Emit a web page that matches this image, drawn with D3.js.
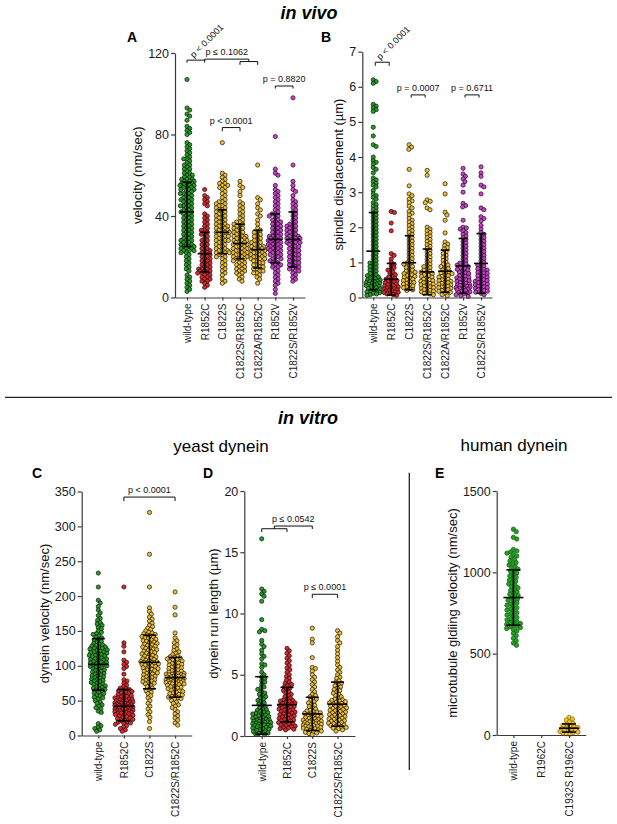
<!DOCTYPE html>
<html>
<head>
<meta charset="utf-8">
<script src="https://cdn.jsdelivr.net/npm/d3@7"></script>
<style>
  body { margin: 0; background: #fff; }
  svg { display: block; }
</style>
</head>
<body>
<svg id="fig" width="617" height="824"></svg>
<script>
const FONT = "'Liberation Sans', Arial, Helvetica, sans-serif";

// ---------- data ----------
const vivoGroups = ["wild-type", "R1852C", "C1822S", "C1822S/R1852C", "C1822A/R1852C", "R1852V", "C1822S/R1852V"];
const yeastGroups = ["wild-type", "R1852C", "C1822S", "C1822S/R1852C"];
const humanGroups = ["wild-type", "R1962C", "C1932S R1962C"];

// A: spindle velocity in vivo (nm/sec)
const velocityValues = [
  [107, 93, 92, 90, 89, 87, 84, 83, 82, 81, 80, 76, 75, 74, 73, 72, 71, 70, 69, 68, 68, 67, 66, 65, 65, 64, 63, 63, 62, 61, 61, 60, 60, 59, 59, 58, 58, 58, 57, 57, 57, 56, 56, 56, 56, 55, 55, 55, 54, 54, 54, 53, 53, 53, 52, 52, 51, 51, 51, 50, 50, 49, 49, 48, 48, 48, 47, 47, 46, 46, 45, 45, 45, 44, 44, 43, 43, 42, 42, 42, 41, 41, 40, 40, 39, 39, 38, 38, 37, 37, 36, 36, 35, 35, 34, 34, 33, 33, 32, 32, 31, 31, 30, 30, 29, 29, 28, 28, 28, 27, 27, 26, 26, 26, 25, 25, 25, 24, 24, 24, 23, 23, 23, 22, 22, 21, 20, 19, 18, 17, 16, 15, 14, 13, 11, 10, 9, 8, 7, 6, 5, 4, 3],
  [53, 50, 49, 48, 47, 46, 45, 41, 40, 39, 38, 37, 36, 35, 34, 33, 33, 32, 31, 31, 30, 29, 28, 28, 27, 26, 26, 25, 24, 24, 23, 23, 22, 22, 21, 21, 20, 20, 19, 19, 18, 18, 17, 17, 16, 16, 15, 15, 14, 14, 14, 13, 13, 13, 12, 12, 12, 11, 11, 10, 10, 9, 9, 8, 8, 7, 6, 5],
  [76, 61, 60, 59, 58, 57, 56, 56, 55, 55, 54, 54, 53, 52, 51, 50, 49, 48, 47, 47, 46, 46, 45, 45, 44, 44, 43, 43, 42, 42, 41, 41, 40, 40, 39, 39, 38, 38, 37, 37, 36, 36, 35, 35, 35, 34, 34, 33, 33, 33, 32, 32, 32, 31, 31, 30, 30, 30, 29, 29, 28, 28, 28, 27, 27, 26, 26, 25, 25, 24, 24, 23, 23, 23, 22, 22, 22, 21, 21, 20, 20, 19, 18, 17, 16, 15, 14, 13, 12, 11, 9, 8, 7],
  [57, 55, 54, 52, 50, 47, 46, 45, 44, 43, 42, 41, 40, 39, 38, 37, 37, 36, 36, 35, 35, 34, 34, 33, 33, 32, 32, 31, 31, 30, 30, 30, 29, 29, 29, 28, 28, 28, 27, 27, 27, 26, 26, 26, 25, 25, 25, 24, 24, 24, 23, 23, 23, 22, 22, 22, 21, 21, 21, 20, 20, 20, 19, 19, 19, 18, 18, 17, 17, 16, 16, 15, 15, 14, 14, 13, 13, 12, 12, 11, 10, 9, 8],
  [65, 49, 48, 46, 44, 43, 41, 40, 38, 36, 34, 33, 32, 32, 31, 30, 30, 29, 28, 28, 27, 27, 26, 26, 25, 25, 25, 24, 24, 24, 23, 23, 23, 22, 22, 22, 21, 21, 21, 20, 20, 20, 19, 19, 19, 18, 18, 17, 17, 16, 16, 15, 15, 14, 14, 13, 13, 12, 12, 11, 10, 9, 7],
  [79, 63, 61, 60, 55, 53, 52, 51, 50, 49, 48, 47, 46, 45, 44, 43, 42, 41, 41, 40, 40, 39, 38, 38, 37, 37, 36, 36, 35, 35, 34, 34, 33, 33, 32, 32, 31, 31, 30, 30, 30, 29, 29, 29, 28, 28, 28, 27, 27, 27, 26, 26, 26, 25, 25, 25, 24, 24, 24, 23, 23, 23, 22, 22, 21, 21, 20, 20, 19, 19, 18, 18, 17, 17, 16, 16, 15, 15, 14, 13, 12, 11, 10, 9, 8, 7, 6, 4, 2],
  [98, 65, 57, 55, 53, 52, 50, 48, 47, 46, 45, 44, 43, 42, 41, 40, 39, 38, 37, 36, 36, 35, 35, 34, 34, 33, 33, 32, 32, 31, 31, 30, 30, 30, 29, 29, 29, 28, 28, 28, 27, 27, 27, 26, 26, 25, 25, 24, 24, 23, 23, 22, 22, 21, 21, 20, 20, 19, 19, 18, 18, 17, 17, 16, 16, 15, 15, 14, 14, 13, 13, 12, 11, 10, 9, 8]
];
const velocityMean = [42, 21.5, 32, 26.5, 23.5, 28.5, 28.5];
const velocityLow = [25, 12.5, 21.5, 19, 14.5, 17, 15];
const velocityHigh = [56.5, 32, 43, 36, 33, 41, 42];
const velocityTicks = [0, 40, 80, 120];

// B: spindle displacement (um)
const displacementValues = [
  [6.2, 6.15, 6.1, 5.5, 5.45, 5.4, 5.35, 5.3, 4.85, 4.6, 4.35, 4.3, 4.0, 3.9, 3.85, 3.8, 3.7, 3.65, 3.55, 3.4, 3.35, 3.3, 3.25, 3.2, 3.15, 3.05, 2.95, 2.9, 2.85, 2.8, 2.7, 2.65, 2.6, 2.55, 2.5, 2.45, 2.4, 2.35, 2.3, 2.25, 2.2, 2.15, 2.1, 2.05, 2.0, 1.95, 1.9, 1.85, 1.8, 1.75, 1.7, 1.65, 1.6, 1.55, 1.5, 1.45, 1.4, 1.35, 1.3, 1.25, 1.2, 1.15, 1.1, 1.05, 1.0, 0.98, 0.95, 0.9, 0.88, 0.85, 0.8, 0.78, 0.75, 0.7, 0.68, 0.65, 0.62, 0.6, 0.58, 0.55, 0.53, 0.5, 0.5, 0.48, 0.47, 0.45, 0.44, 0.42, 0.41, 0.4, 0.38, 0.37, 0.35, 0.34, 0.32, 0.3, 0.28, 0.26, 0.24, 0.22, 0.2, 0.18, 0.16, 0.14, 0.12, 0.1, 0.08, 0.06],
  [2.45, 2.42, 2.12, 1.9, 1.25, 1.2, 1.1, 1.0, 0.95, 0.9, 0.85, 0.8, 0.78, 0.72, 0.68, 0.65, 0.6, 0.58, 0.55, 0.52, 0.5, 0.48, 0.46, 0.44, 0.42, 0.4, 0.38, 0.36, 0.34, 0.32, 0.3, 0.28, 0.27, 0.25, 0.24, 0.22, 0.2, 0.19, 0.18, 0.16, 0.15, 0.14, 0.12, 0.1, 0.08, 0.06],
  [4.35, 4.28, 4.22, 3.65, 3.18, 2.95, 2.9, 2.8, 2.75, 2.7, 2.6, 2.55, 2.45, 2.4, 2.35, 2.25, 2.2, 2.15, 2.1, 2.05, 2.0, 1.95, 1.9, 1.85, 1.8, 1.75, 1.7, 1.65, 1.6, 1.55, 1.5, 1.45, 1.4, 1.35, 1.3, 1.25, 1.2, 1.15, 1.1, 1.05, 1.0, 0.98, 0.95, 0.9, 0.88, 0.85, 0.8, 0.78, 0.75, 0.72, 0.7, 0.68, 0.65, 0.62, 0.6, 0.58, 0.55, 0.52, 0.5, 0.48, 0.45, 0.43, 0.4, 0.38, 0.35, 0.33, 0.3, 0.28, 0.25, 0.22, 0.2],
  [3.62, 3.48, 2.78, 2.74, 2.7, 2.55, 2.5, 2.0, 1.95, 1.9, 1.85, 1.8, 1.75, 1.7, 1.65, 1.6, 1.55, 1.5, 1.45, 1.4, 1.35, 1.3, 1.25, 1.2, 1.15, 1.1, 1.05, 1.0, 0.95, 0.9, 0.88, 0.85, 0.8, 0.78, 0.75, 0.72, 0.7, 0.68, 0.65, 0.62, 0.6, 0.58, 0.55, 0.52, 0.5, 0.48, 0.46, 0.44, 0.42, 0.4, 0.38, 0.36, 0.34, 0.32, 0.3, 0.28, 0.26, 0.24, 0.22, 0.2, 0.18, 0.16, 0.14, 0.12, 0.1, 0.08],
  [3.24, 2.95, 2.43, 2.35, 2.2, 1.84, 1.58, 1.52, 1.48, 1.42, 1.38, 1.3, 1.25, 1.2, 1.15, 1.1, 1.05, 1.0, 0.95, 0.92, 0.88, 0.85, 0.82, 0.78, 0.75, 0.72, 0.7, 0.68, 0.65, 0.62, 0.6, 0.58, 0.55, 0.52, 0.5, 0.48, 0.46, 0.44, 0.42, 0.4, 0.38, 0.36, 0.34, 0.32, 0.3, 0.28, 0.26, 0.24, 0.22, 0.2, 0.18, 0.15, 0.12, 0.08, 0.05],
  [3.68, 3.52, 3.45, 3.38, 3.3, 3.2, 3.0, 2.68, 2.62, 2.58, 2.2, 2.0, 1.98, 1.95, 1.9, 1.85, 1.8, 1.75, 1.7, 1.65, 1.6, 1.55, 1.5, 1.45, 1.4, 1.35, 1.3, 1.25, 1.2, 1.15, 1.1, 1.05, 1.0, 0.98, 0.95, 0.92, 0.9, 0.88, 0.85, 0.82, 0.8, 0.78, 0.75, 0.72, 0.7, 0.68, 0.65, 0.62, 0.6, 0.58, 0.56, 0.54, 0.52, 0.5, 0.48, 0.46, 0.44, 0.42, 0.4, 0.38, 0.36, 0.35, 0.34, 0.32, 0.3, 0.28, 0.26, 0.25, 0.24, 0.22, 0.2, 0.18, 0.16, 0.14, 0.12, 0.1, 0.08, 0.05, 0.03],
  [3.72, 3.55, 3.45, 3.2, 3.15, 2.95, 2.55, 2.5, 2.3, 2.25, 2.18, 2.05, 1.95, 1.85, 1.8, 1.75, 1.7, 1.65, 1.6, 1.55, 1.5, 1.45, 1.4, 1.35, 1.3, 1.25, 1.2, 1.15, 1.1, 1.05, 1.0, 0.95, 0.92, 0.9, 0.85, 0.82, 0.8, 0.78, 0.75, 0.72, 0.7, 0.68, 0.65, 0.62, 0.6, 0.58, 0.55, 0.52, 0.5, 0.48, 0.46, 0.44, 0.42, 0.4, 0.38, 0.36, 0.34, 0.32, 0.3, 0.28, 0.26, 0.24, 0.22, 0.2, 0.18, 0.15, 0.12, 0.08]
];
const displacementMean = [1.32, 0.52, 0.99, 0.73, 0.75, 0.9, 0.97];
const displacementLow = [0.22, 0.07, 0.22, 0.08, 0.15, 0.12, 0.12];
const displacementHigh = [2.42, 0.97, 1.76, 1.38, 1.35, 1.68, 1.82];
const displacementTicks = [0, 1, 2, 3, 4, 5, 6, 7];

// C: yeast dynein velocity (nm/sec)
const dyneinVelocityValues = [
  [233, 213, 194, 190, 185, 180, 176, 172, 168, 165, 162, 160, 158, 155, 153, 150, 148, 146, 145, 143, 141, 140, 138, 137, 135, 134, 132, 131, 130, 129, 128, 127, 126, 125, 125, 124, 123, 122, 121, 120, 120, 119, 118, 117, 116, 115, 115, 114, 113, 112, 111, 110, 110, 109, 108, 107, 106, 105, 105, 104, 103, 102, 101, 100, 100, 99, 98, 97, 96, 95, 94, 93, 92, 91, 90, 89, 88, 87, 86, 85, 84, 83, 82, 81, 80, 79, 78, 77, 76, 75, 74, 73, 72, 71, 70, 69, 68, 67, 66, 65, 64, 62, 61, 60, 58, 57, 55, 54, 52, 50, 48, 46, 44, 42, 40, 38, 35, 33, 17, 14, 12, 10, 8, 6],
  [213, 133, 128, 120, 108, 105, 102, 99, 96, 88, 80, 78, 75, 72, 70, 68, 67, 66, 65, 64, 63, 62, 61, 60, 59, 58, 57, 56, 55, 54, 54, 53, 52, 52, 51, 50, 50, 49, 48, 48, 47, 47, 46, 46, 45, 45, 44, 44, 43, 43, 42, 42, 41, 41, 40, 40, 39, 39, 38, 38, 37, 37, 36, 36, 35, 35, 34, 34, 33, 33, 32, 32, 31, 30, 30, 29, 28, 27, 26, 25, 24, 23, 22, 21, 20, 19, 18, 17, 16, 14, 12, 10, 8, 6],
  [320, 260, 213, 183, 178, 174, 170, 167, 164, 161, 158, 156, 154, 152, 150, 148, 147, 146, 145, 144, 143, 142, 141, 140, 139, 138, 137, 136, 135, 134, 133, 132, 131, 130, 129, 128, 127, 126, 125, 124, 123, 122, 121, 120, 119, 118, 117, 116, 115, 114, 113, 112, 111, 110, 109, 108, 107, 106, 106, 105, 105, 104, 104, 103, 103, 102, 101, 100, 99, 98, 97, 96, 95, 94, 93, 92, 91, 90, 89, 88, 87, 86, 85, 84, 83, 82, 81, 80, 79, 78, 77, 76, 75, 74, 72, 70, 68, 66, 64, 62, 60, 57, 54, 50, 46, 42, 38, 34, 30, 26, 20, 10],
  [206, 184, 173, 147, 140, 136, 133, 130, 127, 124, 122, 120, 118, 116, 114, 113, 112, 111, 110, 109, 108, 107, 106, 105, 104, 103, 102, 101, 100, 99, 98, 97, 96, 95, 94, 93, 92, 91, 90, 89, 89, 88, 88, 87, 87, 86, 86, 85, 85, 84, 84, 83, 83, 82, 82, 81, 81, 80, 80, 79, 79, 78, 78, 77, 77, 76, 76, 75, 75, 74, 74, 73, 72, 71, 70, 69, 68, 67, 66, 65, 64, 63, 62, 61, 60, 59, 58, 57, 56, 55, 54, 53, 52, 50, 48, 46, 44, 42, 40, 37, 34, 31, 28, 25, 22, 18, 15]
];
const dyneinVelocityMean = [102, 42, 105, 83];
const dyneinVelocityLow = [65, 21, 67, 55];
const dyneinVelocityHigh = [139, 66, 144, 112];
const dyneinVelocityTicks = [0, 50, 100, 150, 200, 250, 300, 350];

// D: yeast dynein run length (um)
const runLengthValues = [
  [16.1, 12.0, 11.8, 11.6, 11.4, 11.0, 9.5, 8.7, 8.6, 8.5, 7.8, 7.5, 7.3, 7.0, 6.7, 6.5, 6.3, 5.9, 5.8, 5.6, 5.2, 5.0, 4.8, 4.7, 4.5, 4.4, 4.2, 4.0, 3.9, 3.8, 3.6, 3.5, 3.4, 3.3, 3.2, 3.1, 3.0, 2.9, 2.8, 2.7, 2.6, 2.5, 2.4, 2.3, 2.2, 2.15, 2.1, 2.0, 1.95, 1.9, 1.85, 1.8, 1.75, 1.7, 1.65, 1.6, 1.55, 1.5, 1.45, 1.4, 1.35, 1.3, 1.3, 1.25, 1.2, 1.2, 1.15, 1.1, 1.1, 1.05, 1.0, 1.0, 0.95, 0.9, 0.9, 0.85, 0.8, 0.8, 0.75, 0.7, 0.65, 0.6, 0.55, 0.5, 0.45, 0.4, 0.35, 0.3, 0.25, 0.2, 0.15, 0.1],
  [7.15, 6.95, 6.75, 6.55, 6.35, 6.15, 5.95, 5.75, 5.55, 5.4, 5.2, 5.0, 4.85, 4.7, 4.55, 4.4, 4.3, 4.2, 4.1, 4.0, 3.9, 3.8, 3.7, 3.6, 3.5, 3.4, 3.3, 3.2, 3.1, 3.0, 2.95, 2.9, 2.85, 2.8, 2.75, 2.7, 2.65, 2.6, 2.55, 2.5, 2.45, 2.4, 2.35, 2.3, 2.25, 2.2, 2.15, 2.1, 2.05, 2.0, 1.95, 1.9, 1.85, 1.8, 1.75, 1.7, 1.65, 1.6, 1.55, 1.5, 1.45, 1.4, 1.35, 1.3, 1.25, 1.2, 1.15, 1.1, 1.05, 1.0, 0.95, 0.9, 0.85, 0.8, 0.75, 0.7, 0.65, 0.6, 0.55, 0.5],
  [8.8, 7.9, 7.6, 6.4, 5.6, 5.5, 5.3, 5.0, 4.8, 4.6, 4.4, 4.2, 4.0, 3.8, 3.6, 3.4, 3.3, 3.2, 3.1, 3.0, 2.9, 2.8, 2.7, 2.6, 2.5, 2.4, 2.3, 2.2, 2.1, 2.05, 2.0, 1.95, 1.9, 1.85, 1.8, 1.75, 1.7, 1.65, 1.6, 1.55, 1.5, 1.45, 1.4, 1.35, 1.3, 1.3, 1.25, 1.2, 1.2, 1.15, 1.1, 1.1, 1.05, 1.0, 1.0, 0.95, 0.9, 0.9, 0.85, 0.8, 0.8, 0.75, 0.7, 0.7, 0.65, 0.6, 0.55, 0.5, 0.45, 0.4, 0.35, 0.3, 0.25, 0.2, 0.1],
  [8.6, 8.4, 8.1, 7.8, 7.6, 7.3, 7.0, 6.7, 6.4, 6.1, 5.8, 5.6, 5.4, 5.2, 5.0, 4.8, 4.7, 4.5, 4.4, 4.3, 4.2, 4.1, 4.0, 3.9, 3.8, 3.7, 3.6, 3.5, 3.4, 3.3, 3.2, 3.1, 3.0, 2.95, 2.9, 2.85, 2.8, 2.75, 2.7, 2.65, 2.6, 2.55, 2.5, 2.45, 2.4, 2.35, 2.3, 2.25, 2.2, 2.15, 2.1, 2.05, 2.0, 1.95, 1.9, 1.85, 1.8, 1.75, 1.7, 1.65, 1.6, 1.55, 1.5, 1.45, 1.4, 1.35, 1.3, 1.25, 1.2, 1.15, 1.1, 1.05, 1.0, 0.95, 0.9, 0.85, 0.8, 0.75, 0.7, 0.65, 0.6, 0.5, 0.4]
];
const runLengthMean = [2.5, 2.56, 1.8, 2.6];
const runLengthLow = [0.15, 1.15, 0.45, 0.8];
const runLengthHigh = [4.84, 3.97, 3.16, 4.4];
const runLengthTicks = [0, 5, 10, 15, 20];

// E: human dynein microtubule gliding velocity (nm/sec)
const glidingValues = [
  [1265, 1250, 1215, 1205, 1140, 1132, 1125, 1118, 1110, 1100, 1092, 1080, 1070, 1060, 1052, 1045, 1035, 1028, 1020, 1012, 1005, 995, 985, 978, 970, 960, 952, 945, 935, 928, 920, 912, 905, 895, 888, 880, 872, 865, 858, 850, 842, 835, 828, 820, 812, 805, 798, 790, 782, 775, 768, 760, 752, 745, 738, 730, 722, 715, 708, 700, 695, 690, 685, 680, 675, 670, 665, 660, 655, 648, 640, 625, 610, 595, 580, 565, 552],
  [],
  [108, 98, 92, 80, 72, 66, 60, 55, 50, 46, 42, 38, 35, 32, 28, 25, 22, 18, 15, 12, 8, 5]
];
const glidingMean = [845, null, 42];
const glidingLow = [675, null, 18];
const glidingHigh = [1015, null, 68];
const glidingTicks = [0, 500, 1000, 1500];

// significance brackets: groups at each end (averaged), height in data units
const velocityBrackets = [
  { a: ["wild-type"], b: ["R1852C"], y: 116.5, dl: 2.5, dr: 2.5, text: "p < 0.0001", tilt: true },
  { a: ["R1852C"], b: ["C1822S/R1852C", "C1822A/R1852C"], y: 117, dl: 2, dr: 2.5, text: "p \u2264 0.1062" },
  { a: ["C1822S/R1852C"], b: ["C1822A/R1852C"], y: 115.8, dl: 3.3, dr: 3.3, text: "" },
  { a: ["C1822S"], b: ["C1822S/R1852C"], y: 83.4, dl: 3.7, dr: 3.7, text: "p < 0.0001" },
  { a: ["R1852V"], b: ["C1822S/R1852V"], y: 103.8, dl: 2.5, dr: 2.5, text: "p = 0.8820" }
];
const displacementBrackets = [
  { a: ["wild-type"], b: ["R1852C"], y: 6.7, dl: 3.6, dr: 3.6, text: "p < 0.0001", tilt: true },
  { a: ["C1822S"], b: ["C1822S/R1852C"], y: 5.77, dl: 2.7, dr: 2.7, text: "p = 0.0007" },
  { a: ["R1852V"], b: ["C1822S/R1852V"], y: 5.77, dl: 2.7, dr: 2.7, text: "p = 0.6711" }
];
const dyneinVelocityBrackets = [
  { a: ["R1852C"], b: ["C1822S/R1852C"], y: 342, dl: 4, dr: 4, text: "p < 0.0001" }
];
const runLengthBrackets = [
  { a: ["wild-type"], b: ["R1852C"], y: 16.92, dl: 3.3, dr: 3.3, text: "" },
  { a: ["wild-type", "R1852C"], b: ["C1822S"], y: 17.14, dl: 2.7, dr: 3, text: "p \u2264 0.0542" },
  { a: ["C1822S"], b: ["C1822S/R1852C"], y: 11.57, dl: 3.7, dr: 3.7, text: "p \u2264 0.0001" }
];

// ---------- styling ----------
const GREEN = "#22a022", RED = "#e0262b", GOLD = "#f0c030", MAGENTA = "#cf3fcf";

const svg = d3.select("#fig");
svg.append("rect").attr("width", 617).attr("height", 824).attr("fill", "#fff");

// beeswarm: pack points side by side, squeeze when the column is full
function swarm(vals, y, r, maxW, overlap) {
  const d = 2 * r * overlap;
  const pts = vals.map(v => ({ v, py: y(v) })).sort((a, b) => a.py - b.py);
  const placed = [];
  pts.forEach(p => {
    const near = placed.filter(q => Math.abs(q.py - p.py) < d);
    const cands = [0];
    near.forEach(q => {
      const dx = Math.sqrt(d * d - (q.py - p.py) ** 2);
      cands.push(q.dx + dx, q.dx - dx);
    });
    cands.sort((a, b) => Math.abs(a) - Math.abs(b));
    const ok = c => near.every(q => (q.dx - c) ** 2 + (q.py - p.py) ** 2 >= d * d - 1e-6);
    let pick = cands.find(c => Math.abs(c) <= maxW && ok(c));
    if (pick === undefined) {
      let bestGap = -1;
      for (let c = -maxW; c <= maxW + 1e-9; c += 0.5) {
        const gap = d3.min(near, q => Math.hypot(q.dx - c, q.py - p.py));
        if (gap > bestGap) { bestGap = gap; pick = c; }
      }
    }
    p.dx = pick;
    placed.push(p);
  });
  return placed;
}

function drawPanel(cfg) {
  const g = svg.append("g");
  const x = d3.scalePoint().domain(cfg.groups).range(cfg.xRange).padding(cfg.pad);
  const y = d3.scaleLinear().domain(cfg.yDomain).range(cfg.yRange);

  // points
  cfg.groups.forEach((grp, i) => {
    const pts = swarm(cfg.values[i], y, cfg.r, cfg.maxW, cfg.overlap);
    g.append("g").selectAll("circle")
      .data(pts)
      .join("circle")
      .attr("cx", p => x(grp) + p.dx)
      .attr("cy", p => p.py)
      .attr("r", cfg.r)
      .attr("fill", cfg.colors[i])
      .attr("stroke", cfg.strokes ? cfg.strokes[i] : "#111")
      .attr("stroke-width", 0.7);
  });

  // mean and error bars
  cfg.groups.forEach((grp, i) => {
    if (cfg.mean[i] == null) return;
    const cx = x(grp);
    const bars = g.append("g").attr("stroke", "#000").attr("stroke-width", 1.6);
    bars.append("line").attr("x1", cx).attr("x2", cx).attr("y1", y(cfg.low[i])).attr("y2", y(cfg.high[i]));
    bars.append("line").attr("x1", cx - cfg.meanW).attr("x2", cx + cfg.meanW).attr("y1", y(cfg.mean[i])).attr("y2", y(cfg.mean[i]));
    [cfg.low[i], cfg.high[i]].forEach(v => {
      bars.append("line").attr("x1", cx - cfg.capW).attr("x2", cx + cfg.capW).attr("y1", y(v)).attr("y2", y(v));
    });
  });

  // axes
  const yAxis = g.append("g")
    .attr("transform", `translate(${cfg.xRange[0]},0)`)
    .call(d3.axisLeft(y).tickValues(cfg.ticks).tickFormat(d3.format("d")).tickSize(4).tickPadding(2).tickSizeOuter(0));
  const xAxis = g.append("g")
    .attr("transform", `translate(0,${cfg.yRange[0]})`)
    .call(d3.axisBottom(x).tickSize(3).tickSizeOuter(0));
  xAxis.selectAll("text")
    .attr("transform", "rotate(-90)")
    .attr("x", -6)
    .attr("y", 0)
    .attr("dy", "0.35em")
    .style("text-anchor", "end")
    .attr("font-size", 10);
  [yAxis, xAxis].forEach(a => {
    a.attr("font-family", FONT);
    a.selectAll("path, line").attr("stroke", "#3a3a3a").attr("stroke-width", 1.2);
    a.selectAll("text").attr("fill", "#1a1a1a");
  });
  yAxis.selectAll("text").attr("font-size", 12.5);

  // y axis title
  const yMid = (cfg.yRange[0] + cfg.yRange[1]) / 2;
  g.append("text")
    .attr("transform", `translate(${cfg.labelX},${yMid}) rotate(-90)`)
    .attr("text-anchor", "middle")
    .attr("dy", "0.35em")
    .attr("font-family", FONT)
    .attr("font-size", 13)
    .attr("fill", "#111")
    .text(cfg.label);

  // panel letter
  g.append("text")
    .attr("x", cfg.letterPos[0]).attr("y", cfg.letterPos[1])
    .attr("font-family", FONT).attr("font-weight", "bold").attr("font-size", 14)
    .text(cfg.letter);

  // significance brackets
  const inset = cfg.inset || 0;
  cfg.brackets.forEach(b => {
    const xa = d3.mean(b.a, k => x(k)) + inset;
    const xb = d3.mean(b.b, k => x(k)) - inset;
    const yb = y(b.y);
    g.append("path")
      .attr("d", `M${xa},${yb + b.dl}V${yb}H${xb}V${yb + b.dr}`)
      .attr("fill", "none").attr("stroke", "#111").attr("stroke-width", 1);
    if (!b.text) return;
    const t = g.append("text")
      .attr("font-family", FONT).attr("font-size", 9).attr("fill", "#111")
      .text(b.text);
    if (b.tilt) {
      t.attr("transform", `translate(${(xa + xb) / 2 - 2},${yb - 2}) rotate(-45)`);
    } else {
      t.attr("x", (xa + xb) / 2).attr("y", yb - 4).attr("text-anchor", "middle");
    }
  });
}

const vivoColors = [GREEN, RED, GOLD, GOLD, GOLD, MAGENTA, MAGENTA];
const yeastColors = [GREEN, RED, GOLD, GOLD];

drawPanel({
  letter: "A", letterPos: [127, 41.7],
  groups: vivoGroups, values: velocityValues,
  mean: velocityMean, low: velocityLow, high: velocityHigh, ticks: velocityTicks,
  yDomain: [0, 120], yRange: [297.5, 53], xRange: [175, 305], pad: 0.68,
  r: 2.1, maxW: 7, overlap: 0.8, meanW: 7, capW: 4.5,
  colors: vivoColors, label: "velocity (nm/sec)", labelX: 137,
  brackets: velocityBrackets
});

drawPanel({
  letter: "B", letterPos: [321, 41.7],
  groups: vivoGroups, values: displacementValues,
  mean: displacementMean, low: displacementLow, high: displacementHigh, ticks: displacementTicks,
  yDomain: [0, 7], yRange: [297.5, 51.7], xRange: [362.3, 492], pad: 0.61,
  r: 2.1, maxW: 7, overlap: 0.8, meanW: 7, capW: 4.5,
  colors: vivoColors, label: "spindle displacement (\u00b5m)", labelX: 338,
  brackets: displacementBrackets, inset: 2
});

drawPanel({
  letter: "C", letterPos: [32, 477.5],
  groups: yeastGroups, values: dyneinVelocityValues,
  mean: dyneinVelocityMean, low: dyneinVelocityLow, high: dyneinVelocityHigh, ticks: dyneinVelocityTicks,
  yDomain: [0, 350], yRange: [735.5, 491.5], xRange: [81.7, 191.7], pad: 0.65,
  r: 2.1, maxW: 9, overlap: 0.8, meanW: 10, capW: 6.5,
  colors: yeastColors, label: "dynein velocity (nm/sec)", labelX: 44,
  brackets: dyneinVelocityBrackets
});

drawPanel({
  letter: "D", letterPos: [203, 477.5],
  groups: yeastGroups, values: runLengthValues,
  mean: runLengthMean, low: runLengthLow, high: runLengthHigh, ticks: runLengthTicks,
  yDomain: [0, 20], yRange: [736, 491], xRange: [244.3, 355], pad: 0.69,
  r: 2.1, maxW: 9, overlap: 0.8, meanW: 10, capW: 6.5,
  colors: yeastColors, label: "dynein run length (\u00b5m)", labelX: 213,
  brackets: runLengthBrackets
});

drawPanel({
  letter: "E", letterPos: [435, 477.5],
  groups: humanGroups, values: glidingValues,
  mean: glidingMean, low: glidingLow, high: glidingHigh, ticks: glidingTicks,
  yDomain: [0, 1500], yRange: [735, 491], xRange: [496.7, 585.7], pad: 0.6,
  r: 2.2, maxW: 9, overlap: 0.85, meanW: 10, capW: 7,
  colors: [GREEN, GREEN, GOLD], strokes: ["#1d5e1d", "#1d5e1d", "#8a6a10"],
  label: "microtubule gldiing velocity (nm/sec)", labelX: 452,
  brackets: []
});

// headings and dividers
const heading = (txt, xp, yp, size, bold) => svg.append("text")
  .attr("x", xp).attr("y", yp).attr("text-anchor", "middle")
  .attr("font-family", FONT).attr("font-size", size)
  .attr("font-weight", bold ? "bold" : "normal")
  .attr("font-style", bold ? "italic" : "normal")
  .attr("fill", "#000")
  .text(txt);

heading("in vivo", 309, 19, 18, true);
heading("in vitro", 308, 424, 18, true);
heading("yeast dynein", 221, 452, 17, false);
heading("human dynein", 514, 451, 17, false);

svg.append("line").attr("x1", 5).attr("x2", 612).attr("y1", 397.3).attr("y2", 397.3)
  .attr("stroke", "#222").attr("stroke-width", 1.3);
svg.append("line").attr("x1", 409.3).attr("x2", 409.3).attr("y1", 472.7).attr("y2", 770)
  .attr("stroke", "#222").attr("stroke-width", 1.3);
</script>
</body>
</html>
